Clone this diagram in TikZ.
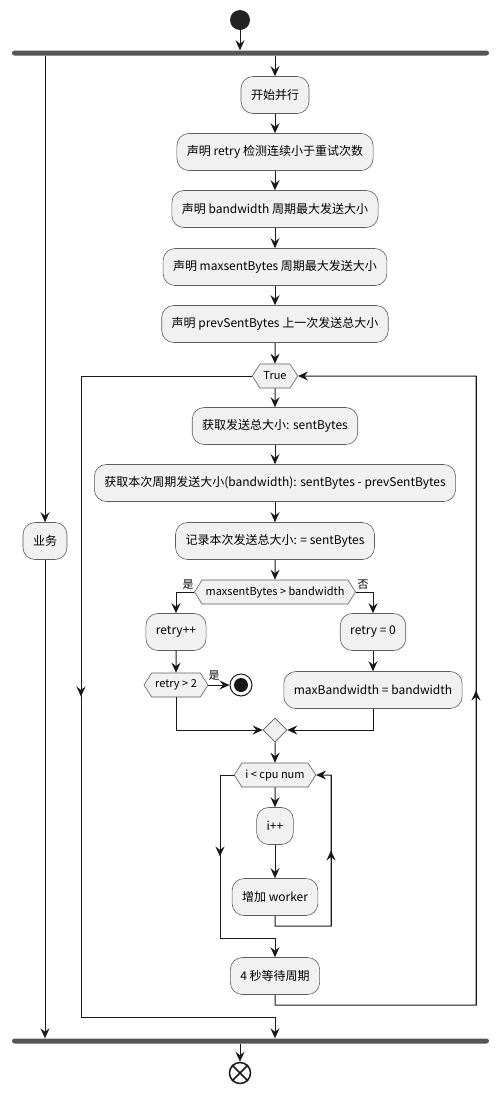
\documentclass[tikz,border=0pt]{standalone}
\usepackage{fontspec}
\setmainfont{Noto Sans CJK SC}
\usetikzlibrary{arrows.meta,shapes.symbols,shapes.geometric,decorations.markings}
\definecolor{actfill}{HTML}{F1F1F1}
\definecolor{lineclr}{HTML}{181818}
\definecolor{barclr}{HTML}{555555}
\begin{document}
\begin{tikzpicture}[x=1pt, y=-1pt,
	arr/.style={-{Stealth[length=10pt, width=9pt, inset=3.5pt]}, draw=lineclr, line width=1pt},
	mid/.style={draw=lineclr, line width=1pt, postaction={decorate}, decoration={markings, mark=at position 0.5 with {\arrow{Stealth[length=10pt, width=9pt, inset=3.5pt]}}}},
	act/.style={draw=lineclr!70, line width=0.6pt, fill=actfill, rounded corners=12pt, minimum height=37pt, inner xsep=10pt, font=\fontsize{12}{14}\selectfont},
	hex/.style={draw=lineclr!70, line width=0.6pt, fill=actfill, signal, signal to=east and west, signal pointer angle=115, minimum height=24pt, inner xsep=3.5pt, inner ysep=0pt, font=\fontsize{11}{13}\selectfont},
	bar/.style={fill=barclr, rounded corners=2.5pt, minimum width=477pt, minimum height=5pt, inner sep=0pt},
	lbl/.style={font=\fontsize{11}{13}\selectfont, inner sep=0pt}
]
	\useasboundingbox (0,0) rectangle (501,1093);
	% start and fork
	\node[circle, fill=lineclr!95, minimum size=20pt, inner sep=0pt] (start) at (240,20) {};
	\node[bar] (fork) at (250.5,53) {};
	\draw[arr] (start) -- (start |- fork.north);
	% left branch
	\node[act] (yewu) at (45,541) {业务};
	\draw[arr] (yewu |- fork.south) -- (yewu);
	% right branch
	\node[act] (ksbx) at (275,95) {开始并行};
	\node[act] (decl1) at (275,152) {声明 retry 检测连续小于重试次数};
	\node[act] (decl2) at (275,209) {声明 bandwidth 周期最大发送大小};
	\node[act] (decl3) at (275,267) {声明 maxsentBytes 周期最大发送大小};
	\node[act] (decl4) at (275,324) {声明 prevSentBytes 上一次发送总大小};
	\draw[arr] (ksbx |- fork.south) -- (ksbx);
	\draw[arr] (ksbx) -- (decl1);
	\draw[arr] (decl1) -- (decl2);
	\draw[arr] (decl2) -- (decl3);
	\draw[arr] (decl3) -- (decl4);
	% while loop
	\node[hex] (loop) at (275,376) {True};
	\draw[arr] (decl4) -- (loop);
	\node[act] (get1) at (275,426) {获取发送总大小: sentBytes};
	\node[act] (get2) at (275,483) {获取本次周期发送大小(bandwidth): sentBytes - prevSentBytes};
	\node[act] (rec) at (275,541) {记录本次发送总大小: = sentBytes};
	\draw[arr] (loop) -- (get1);
	\draw[arr] (get1) -- (get2);
	\draw[arr] (get2) -- (rec);
	% if maxsentBytes > bandwidth
	\node[hex] (cond) at (275,592) {maxsentBytes > bandwidth};
	\draw[arr] (rec) -- (cond);
	\node[act] (rinc) at (176,632) {retry++};
	\node[act] (rzero) at (373,632) {retry = 0};
	\draw[arr] (cond.west) -| (rinc);
	\draw[arr] (cond.east) -| (rzero);
	\node[lbl] (yes1) at (188,585) {是};
	\node[lbl] (no1) at (363,585) {否};
	\node[hex] (rchk) at (176,685) {retry > 2};
	\node[circle, draw=lineclr, line width=1pt, minimum size=22pt, inner sep=0pt] (kill) at (241,685) {};
	\fill[lineclr] (kill) circle (7);
	\draw[arr] (rinc) -- (rchk);
	\draw[arr] (rchk.east) -- (kill);
	\node[lbl] (yes2) at (214,676) {是};
	\node[act] (maxbw) at (373,690) {maxBandwidth = bandwidth};
	\draw[arr] (rzero) -- (maxbw);
	\node[diamond, draw=lineclr!70, line width=0.6pt, fill=actfill, minimum size=24pt, inner sep=0pt] (merge) at (275,730) {};
	\draw[arr] (rchk) |- (merge);
	\draw[arr] (maxbw) |- (merge);
	% while i < cpu num
	\node[hex] (cpu) at (275,775) {i < cpu num};
	\draw[arr] (merge) -- (cpu);
	\node[act] (iinc) at (275,826) {i++};
	\node[act] (addw) at (275,897) {增加 worker};
	\draw[arr] (cpu) -- (iinc);
	\draw[arr] (iinc) -- (addw);
	\coordinate (wb) at (331,926);
	\draw[arr] (addw) |- (wb) -- (wb |- cpu) -- (cpu);
	\draw[mid] (wb) -- (wb |- cpu);
	\node[act] (wait) at (275,976) {4 秒等待周期};
	\coordinate (cx) at (220,938);
	\draw[arr] (cpu.west) -| (cx) -- (cx -| wait) -- (wait);
	\draw[mid] (cx |- cpu) -- (cx);
	% back to True
	\coordinate (lb) at (476,1005);
	\draw[arr] (wait) |- (lb) -- (lb |- loop) -- (loop);
	\draw[mid] (lb) -- (lb |- loop);
	% leave loop
	\node[bar] (join) at (250.5,1041) {};
	\coordinate (la) at (81,1017);
	\draw[arr] (loop.west) -| (la) -- (la -| wait) -- (wait |- join.north);
	\draw[mid] (la |- loop) -- (la);
	\draw[arr] (yewu) -- (yewu |- join.north);
	% end
	\node[circle, draw=lineclr, line width=1.5pt, minimum size=21pt, inner sep=0pt] (end) at (240,1073) {};
	\draw[lineclr, line width=1.5pt] (end.north west) -- (end.south east);
	\draw[lineclr, line width=1.5pt] (end.north east) -- (end.south west);
	\draw[arr] (end |- join.south) -- (end);
\end{tikzpicture}
\end{document}
